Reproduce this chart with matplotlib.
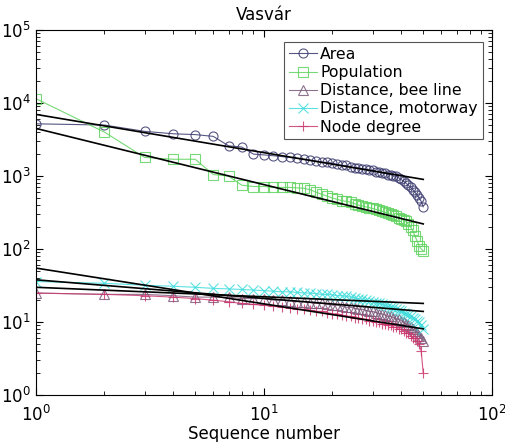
import numpy as np
import matplotlib
matplotlib.use("Agg")
import matplotlib.pyplot as plt

# sequence numbers 1..50
seq = np.arange(1, 51)

area = [5200, 5000, 4100, 3800, 3700, 3500, 2600, 2500, 2000, 1950,
        1900, 1850, 1800, 1750, 1700, 1650, 1600, 1550, 1550, 1500,
        1450, 1400, 1400, 1350, 1300, 1300, 1250, 1250, 1200, 1200,
        1150, 1150, 1100, 1100, 1050, 1050, 1000, 1000, 950, 900,
        850, 800, 750, 700, 650, 600, 550, 500, 450, 380]
population = [11500, 4000, 1800, 1700, 1700, 1050, 1000, 750, 720, 720,
              700, 700, 700, 690, 680, 650, 600, 560, 530, 500,
              480, 460, 450, 440, 420, 400, 390, 380, 370, 360,
              350, 340, 330, 320, 310, 300, 290, 280, 270, 260,
              250, 240, 220, 200, 180, 150, 130, 110, 100, 95]
bee_line = [25, 24, 24, 23, 22, 22, 22, 21, 21, 21,
            20, 20, 19.5, 19, 19, 18.5, 18, 18, 17.5, 17,
            17, 16.5, 16, 16, 15.5, 15, 15, 14.5, 14, 14,
            13.5, 13, 13, 12.5, 12, 12, 11.5, 11, 11, 10.5,
            10, 9.5, 9, 8.5, 8, 7.5, 7, 6.5, 6, 5.5]
motorway = [36, 34, 32, 31, 30, 29, 28.5, 28, 27.5, 27,
            26.5, 26, 26, 25.5, 25, 25, 24.5, 24, 24, 23.5,
            23, 23, 22.5, 22, 21.5, 21, 20.5, 20, 19.5, 19,
            18.5, 18, 17.5, 17, 16.5, 16, 15.5, 15, 14.5, 14,
            13.5, 13, 12.5, 12, 11.5, 11, 10.5, 10, 9, 8]
node_degree = [25, 24, 23, 22, 21, 20, 19, 18, 17.5, 17,
               16.5, 16, 15.5, 15, 15, 14.5, 14, 14, 13.5, 13,
               13, 12.5, 12, 12, 11.5, 11.5, 11, 11, 10.5, 10.5,
               10, 10, 9.5, 9.5, 9, 9, 8.5, 8.5, 8, 8,
               7.5, 7, 7, 6.5, 6, 6, 5.5, 5, 4, 2]

# power-law fits y = a * x^b
fit_a = [7000, 4500, 30, 38, 55]
fit_b = [-0.524, -0.77, -0.13, -0.255, -0.49]

labels = ["Area", "Population", "Distance, bee line", "Distance, motorway", "Node degree"]
series = [area, population, bee_line, motorway, node_degree]
colors = ["#3a3a6e", "#5fd35f", "#7a5a7a", "#3fdcdc", "#cc3a70"]
markers = ["o", "s", "^", "x", "+"]

fig = plt.figure(figsize=(5.05, 4.42), dpi=100)
ax = fig.add_axes([0.071, 0.106, 0.903, 0.826])

for y, lab, c, m in zip(series, labels, colors, markers):
    ax.plot(seq, y, color=c, marker=m, mfc="none", mec=c, ms=6.5, lw=0.8,
            mew=0.8, alpha=0.85, label=lab)

xf = np.array([1, 50])
for a, b in zip(fit_a, fit_b):
    ax.plot(xf, a * xf ** b, color="black", lw=1.2)

ax.set_xscale("log")
ax.set_yscale("log")
ax.set_xlim(1, 100)
ax.set_ylim(1, 1e5)
ax.tick_params(which="both", direction="in", top=True, right=True, labelsize=12)
ax.tick_params(which="major", length=5)
ax.tick_params(which="minor", length=3)
ax.tick_params(axis="x", pad=7)
ax.set_title("Vasvár", fontsize=12, pad=7)
ax.set_xlabel("Sequence number", fontsize=12, labelpad=0)

leg = ax.legend(loc="upper right", fontsize=11.3, numpoints=1, handlelength=1.8,
                handletextpad=0.2, borderpad=0.3, labelspacing=0.2,
                fancybox=False, edgecolor="#555555", framealpha=1,
                bbox_to_anchor=(0.997, 0.988))
leg.get_frame().set_linewidth(0.8)

fig.savefig("out.png", dpi=100)
